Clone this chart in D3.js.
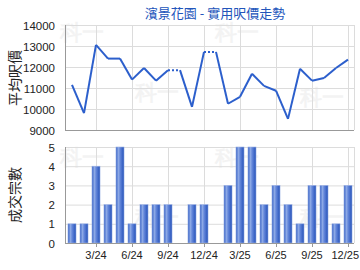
<!DOCTYPE html>
<html>
<head>
<meta charset="utf-8">
<script src="https://cdn.jsdelivr.net/npm/d3@7"></script>
<style>
  body { margin: 0; background: #fff; }
  svg { display: block; }
  text { font-family: "Liberation Sans", Arial, sans-serif; }
  .cjk { font-family: "Noto Sans CJK TC", "Noto Sans CJK SC", sans-serif; }
</style>
</head>
<body>
<svg width="360" height="270"></svg>
<script>
const months = ['1/24','2/24','3/24','4/24','5/24','6/24','7/24','8/24','9/24','10/24','11/24','12/24',
                '1/25','2/25','3/25','4/25','5/25','6/25','7/25','8/25','9/25','10/25','11/25','12/25']
// null = no deal that month, price carried forward (dotted)
const prices = [11150, 9800, 13050, 12400, 12400, 11400, 11950, 11350, 11850, null, 10100, 12720,
                null, 10250, 10580, 11680, 11100, 10870, 9530, 11920, 11350, 11480, 11950, 12350]
const counts = [1, 1, 4, 2, 5, 1, 2, 2, 2, 0, 2, 2, 0, 3, 5, 5, 2, 3, 2, 1, 3, 3, 1, 3]
const tickMonths = ['3/24','6/24','9/24','12/24','3/25','6/25','9/25','12/25']
const priceTicks = [9000, 10000, 11000, 12000, 13000, 14000]
const countTicks = [0, 1, 2, 3, 4, 5]

const svg = d3.select('svg')
const left = 65, right = 354

const x = d3.scaleBand().domain(months).range([left + 1, right]).paddingInner(0.33).paddingOuter(0.165)
const cx = m => x(m) + x.bandwidth() / 2
const yP = d3.scaleLinear().domain([9000, 14000]).range([130, 25])
const yC = d3.scaleLinear().domain([0, 5]).range([243, 147])

// watermark
const wm = svg.append('g').attr('class', 'cjk').attr('fill', '#000').attr('opacity', 0.045)
    .attr('font-size', 22).attr('font-weight', 'bold')
;[[60, 40], [135, 100], [215, 40], [300, 105], [60, 165], [135, 225], [215, 165], [300, 225]].forEach(p => {
    wm.append('text').attr('x', p[0]).attr('y', p[1]).text('科一')
})

// gradient for bars
const grad = svg.append('defs').append('linearGradient').attr('id', 'barGrad')
    .attr('x1', 0).attr('x2', 1).attr('y1', 0).attr('y2', 0)
grad.append('stop').attr('offset', '0%').attr('stop-color', '#2f5cc4')
grad.append('stop').attr('offset', '30%').attr('stop-color', '#8eaae6')
grad.append('stop').attr('offset', '55%').attr('stop-color', '#5f83d8')
grad.append('stop').attr('offset', '100%').attr('stop-color', '#2350b8')

function panel(y, ticks, fmt){
    const g = svg.append('g')
    const top = y.range()[1], bottom = y.range()[0]
    g.selectAll('.hg').data(ticks).enter().append('line')
        .attr('x1', left).attr('x2', right).attr('y1', d => y(d) + 0.5).attr('y2', d => y(d) + 0.5)
        .attr('stroke', '#dcdcdc')
    g.selectAll('.vg').data(tickMonths).enter().append('line')
        .attr('x1', d => Math.round(cx(d)) + 0.5).attr('x2', d => Math.round(cx(d)) + 0.5)
        .attr('y1', top).attr('y2', bottom)
        .attr('stroke', '#dcdcdc')
    g.append('line').attr('x1', right + 0.5).attr('x2', right + 0.5).attr('y1', top).attr('y2', bottom)
        .attr('stroke', '#dcdcdc')
    g.selectAll('.yl').data(ticks).enter().append('text')
        .attr('x', 55).attr('y', d => y(d) + 4.5).attr('text-anchor', 'end')
        .attr('font-size', 11.5).attr('fill', '#222').text(fmt)
    return g
}

// price panel
const gp = panel(yP, priceTicks, d => d)
const segs = []
let last = prices[0]
for (let i = 1; i < months.length; i++) {
    const v = prices[i] === null ? last : prices[i]
    segs.push({a: [months[i - 1], last], b: [months[i], v], dotted: prices[i] === null})
    last = v
}
const line = d3.line().x(d => cx(d[0])).y(d => yP(d[1]))
gp.selectAll('.seg').data(segs).enter().append('path')
    .attr('d', d => line([d.a, d.b]))
    .attr('fill', 'none').attr('stroke', '#2c5fcc').attr('stroke-width', 2)
    .attr('stroke-linejoin', 'round')
    .attr('stroke-dasharray', d => d.dotted ? '2,2' : null)
gp.append('line').attr('x1', left + 0.5).attr('x2', left + 0.5).attr('y1', 25).attr('y2', 131)
    .attr('stroke', '#999')
gp.append('line').attr('x1', left).attr('x2', right).attr('y1', 130.5).attr('y2', 130.5)
    .attr('stroke', '#999')

// count panel
const gc = panel(yC, countTicks, d => d)
gc.selectAll('.bar').data(counts.map((c, i) => ({m: months[i], c}))).enter()
    .filter(d => d.c > 0).append('rect')
    .attr('x', d => x(d.m)).attr('width', x.bandwidth())
    .attr('y', d => yC(d.c)).attr('height', d => yC(0) - yC(d.c))
    .attr('fill', 'url(#barGrad)').attr('stroke', '#9db2e4').attr('stroke-width', 0.6)
gc.append('line').attr('x1', left + 0.5).attr('x2', left + 0.5).attr('y1', 147).attr('y2', 244)
    .attr('stroke', '#999')
gc.append('line').attr('x1', left).attr('x2', right).attr('y1', 243.5).attr('y2', 243.5)
    .attr('stroke', '#999')
gc.selectAll('.xt').data(tickMonths).enter().append('line')
    .attr('x1', d => Math.round(cx(d)) + 0.5).attr('x2', d => Math.round(cx(d)) + 0.5)
    .attr('y1', 243).attr('y2', 247).attr('stroke', '#999')
gc.selectAll('.xl').data(tickMonths).enter().append('text')
    .attr('x', (d, i) => i === tickMonths.length - 1 ? 359 : cx(d))
    .attr('text-anchor', (d, i) => i === tickMonths.length - 1 ? 'end' : 'middle')
    .attr('y', 259)
    .attr('font-size', 11).attr('fill', '#222').text(d => d)

// titles
svg.append('text').attr('class', 'cjk').attr('x', 215).attr('y', 18).attr('text-anchor', 'middle')
    .attr('font-size', 13).attr('fill', '#2255bb').text('濱景花園 - 實用呎價走勢')
svg.append('text').attr('class', 'cjk').attr('transform', 'translate(20,78) rotate(-90)')
    .attr('text-anchor', 'middle').attr('font-size', 14).attr('fill', '#222').text('平均呎價')
svg.append('text').attr('class', 'cjk').attr('transform', 'translate(20,195) rotate(-90)')
    .attr('text-anchor', 'middle').attr('font-size', 14).attr('fill', '#222').text('成交宗數')
</script>
</body>
</html>
